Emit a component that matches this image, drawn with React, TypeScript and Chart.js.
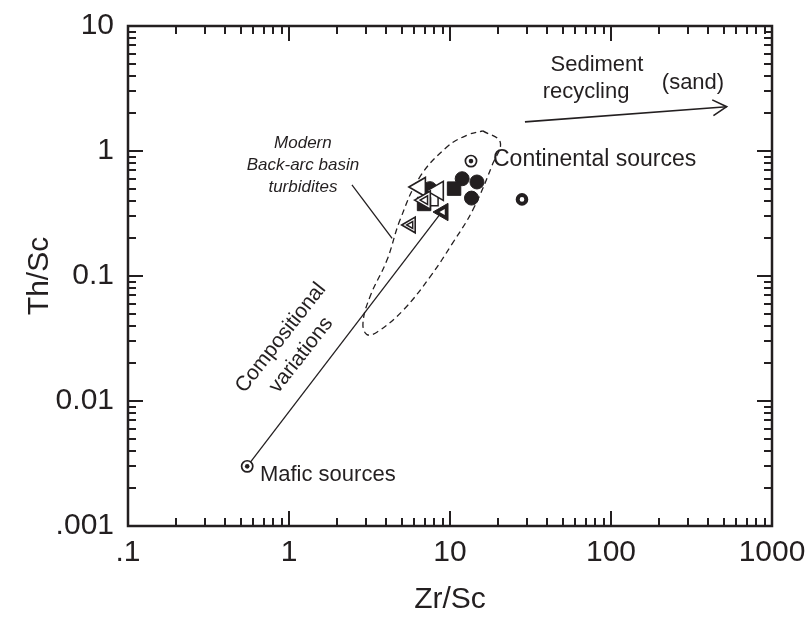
import React, { useEffect, useRef } from 'react';
import { Chart, registerables } from 'chart.js';

Chart.register(...registerables);

// ---- axis ticks ----
const xTickValues = [0.1, 1, 10, 100, 1000];
const xTickLabels = ['.1', '1', '10', '100', '1000'];
const yTickValues = [0.001, 0.01, 0.1, 1, 10];
const yTickLabels = ['.001', '0.01', '0.1', '1', '10'];

// ---- sample data (Zr/Sc, Th/Sc) ----
const filledCircles = [
  { x: 11.9, y: 0.6 },
  { x: 14.7, y: 0.565 },
  { x: 13.6, y: 0.42 },
  { x: 7.5, y: 0.5 },
];
const filledSquares = [
  { x: 10.6, y: 0.5 },
  { x: 6.9, y: 0.377 },
];
const openSquares = [{ x: 7.7, y: 0.41 }];
const openTriangles = [
  { x: 6.5, y: 0.515 },
  { x: 8.4, y: 0.48 },
];
const doubleTriangles = [{ x: 7.0, y: 0.405 }];
const smallDoubleTriangles = [{ x: 5.7, y: 0.256 }];
const thickTriangles = [{ x: 9.05, y: 0.325 }];
const continentalSource = [{ x: 13.5, y: 0.83 }];
const maficSource = [{ x: 0.55, y: 0.003 }];
const ringPoints = [{ x: 28, y: 0.41 }];

// ---- lines ----
const compositionLine = [
  { x: 0.55, y: 0.003 },
  { x: 9.6, y: 0.37 },
];
const turbiditeEnvelope = [
  { x: 16.0, y: 1.45 },
  { x: 20.5, y: 1.18 },
  { x: 18.5, y: 0.8 },
  { x: 13.9, y: 0.34 },
  { x: 10.4, y: 0.184 },
  { x: 7.5, y: 0.098 },
  { x: 5.1, y: 0.053 },
  { x: 3.57, y: 0.036 },
  { x: 3.05, y: 0.034 },
  { x: 2.88, y: 0.042 },
  { x: 3.18, y: 0.068 },
  { x: 4.06, y: 0.134 },
  { x: 4.89, y: 0.28 },
  { x: 6.5, y: 0.62 },
  { x: 9.6, y: 1.08 },
  { x: 12.8, y: 1.34 },
  { x: 16.0, y: 1.45 },
];
const leaderLine = [
  { x: 2.46, y: 0.535 },
  { x: 4.37, y: 0.2 },
];
const recyclingArrow = [
  { x: 29.2, y: 1.71 },
  { x: 523, y: 2.26 },
];

// ---- text annotations (anchored in data units) ----
const annotationTexts = ['Continental sources', 'Mafic sources', 'Sediment', 'recycling', '(sand)', 'Modern', 'Back-arc basin', 'turbidites', 'Compositional', 'variations'];
const annotationX = [18.5, 0.66, 81.8, 70, 323, 1.22, 1.22, 1.22, 0.89, 1.19];
const annotationY = [0.85, 0.00256, 4.9, 2.95, 3.5, 1.16, 0.77, 0.515, 0.032, 0.0233];

const INK = '#231f20';
const FONT = '"Liberation Sans", Arial, Helvetica, sans-serif';

const annotationStyle = [
  { size: 23, align: 'left', italic: false, rot: 0 },
  { size: 22, align: 'left', italic: false, rot: 0 },
  { size: 22, align: 'center', italic: false, rot: 0 },
  { size: 22, align: 'center', italic: false, rot: 0 },
  { size: 22, align: 'center', italic: false, rot: 0 },
  { size: 17, align: 'center', italic: true, rot: 0 },
  { size: 17, align: 'center', italic: true, rot: 0 },
  { size: 17, align: 'center', italic: true, rot: 0 },
  { size: 21, align: 'center', italic: false, rot: -52 },
  { size: 21, align: 'center', italic: false, rot: -52 },
];

const overlayPlugin = {
  id: 'overlay',
  afterDatasetsDraw(chart: any) {
    const { ctx, chartArea: a } = chart;
    const xs = chart.scales.x;
    const ys = chart.scales.y;
    ctx.save();
    ctx.strokeStyle = INK;
    ctx.fillStyle = INK;
    ctx.lineWidth = 2;
    ctx.lineCap = 'butt';
    // x ticks (bottom & top, inward)
    for (let e = -1; e < 3; e++) {
      for (let m = 1; m < 10; m++) {
        const v = m * Math.pow(10, e);
        const px = Math.round(xs.getPixelForValue(v));
        const len = m === 1 ? 15 : 8;
        ctx.beginPath();
        ctx.moveTo(px, a.bottom);
        ctx.lineTo(px, a.bottom - len);
        ctx.moveTo(px, a.top);
        ctx.lineTo(px, a.top + len);
        ctx.stroke();
      }
    }
    // y ticks (left & right, inward)
    for (let e = -3; e < 1; e++) {
      for (let m = 1; m < 10; m++) {
        const v = m * Math.pow(10, e);
        const py = Math.round(ys.getPixelForValue(v));
        const len = m === 1 ? 15 : 8;
        ctx.beginPath();
        ctx.moveTo(a.left, py);
        ctx.lineTo(a.left + len, py);
        ctx.moveTo(a.right, py);
        ctx.lineTo(a.right - len, py);
        ctx.stroke();
      }
    }
    // frame
    ctx.lineWidth = 2.5;
    ctx.strokeRect(a.left, a.top, a.right - a.left, a.bottom - a.top);

    // arrow head for sediment recycling
    const p0 = { x: xs.getPixelForValue(recyclingArrow[0].x), y: ys.getPixelForValue(recyclingArrow[0].y) };
    const p1 = { x: xs.getPixelForValue(recyclingArrow[1].x), y: ys.getPixelForValue(recyclingArrow[1].y) };
    const ang = Math.atan2(p1.y - p0.y, p1.x - p0.x);
    const hl = 16;
    const spread = 0.52;
    ctx.lineWidth = 1.6;
    ctx.beginPath();
    ctx.moveTo(p1.x - hl * Math.cos(ang - spread), p1.y - hl * Math.sin(ang - spread));
    ctx.lineTo(p1.x, p1.y);
    ctx.lineTo(p1.x - hl * Math.cos(ang + spread), p1.y - hl * Math.sin(ang + spread));
    ctx.stroke();

    // texts
    ctx.textBaseline = 'middle';
    annotationTexts.forEach((t, i) => {
      const st = annotationStyle[i];
      const px = xs.getPixelForValue(annotationX[i]);
      const py = ys.getPixelForValue(annotationY[i]);
      ctx.save();
      ctx.translate(px, py);
      ctx.rotate((st.rot * Math.PI) / 180);
      ctx.font = `${st.italic ? 'italic ' : ''}${st.size}px ${FONT}`;
      ctx.textAlign = st.align;
      ctx.fillText(t, 0, 0);
      ctx.restore();
    });
    ctx.restore();
  },
};

export default function App() {
  const ref = useRef<HTMLCanvasElement | null>(null);
  useEffect(() => {
    if (!ref.current) return;
    const lineDs = (data: any[], extra: any = {}) => ({
      data,
      showLine: true,
      borderColor: INK,
      borderWidth: 1.3,
      pointRadius: 0,
      fill: false,
      ...extra,
    });
    const noPad = (s: any) => {
      s.paddingLeft = 0;
      s.paddingRight = 0;
      s.paddingTop = 0;
      s.paddingBottom = 0;
    };
    const chart = new Chart(ref.current, {
      type: 'scatter',
      data: {
        datasets: [
          { data: maficSource, pointStyle: 'circle', pointRadius: 2.3, backgroundColor: INK, borderWidth: 0, order: 0 },
          { data: continentalSource, pointStyle: 'circle', pointRadius: 2.3, backgroundColor: INK, borderWidth: 0, order: 0 },
          { data: maficSource, pointStyle: 'circle', pointRadius: 5.6, backgroundColor: '#fff', borderColor: INK, borderWidth: 1.7, order: 1 },
          { data: continentalSource, pointStyle: 'circle', pointRadius: 5.6, backgroundColor: '#fff', borderColor: INK, borderWidth: 1.7, order: 1 },
          { data: ringPoints, pointStyle: 'circle', pointRadius: 4.3, backgroundColor: '#fff', borderColor: INK, borderWidth: 4, order: 1 },
          { data: thickTriangles, pointStyle: 'triangle', rotation: -90, pointRadius: 3.5, backgroundColor: '#fff', borderWidth: 0, order: 2 },
          { data: thickTriangles, pointStyle: 'triangle', rotation: -90, pointRadius: 10, backgroundColor: INK, borderColor: INK, borderWidth: 1, order: 3 },
          { data: doubleTriangles, pointStyle: 'triangle', rotation: -90, pointRadius: 5, backgroundColor: '#fff', borderColor: INK, borderWidth: 1.5, order: 2 },
          { data: smallDoubleTriangles, pointStyle: 'triangle', rotation: -90, pointRadius: 4, backgroundColor: '#fff', borderColor: INK, borderWidth: 1.5, order: 2 },
          { data: doubleTriangles, pointStyle: 'triangle', rotation: -90, pointRadius: 10.5, backgroundColor: '#fff', borderColor: INK, borderWidth: 1.6, order: 3 },
          { data: smallDoubleTriangles, pointStyle: 'triangle', rotation: -90, pointRadius: 9, backgroundColor: '#fff', borderColor: INK, borderWidth: 1.6, order: 3 },
          { data: openTriangles, pointStyle: 'triangle', rotation: -90, pointRadius: 11, backgroundColor: '#fff', borderColor: INK, borderWidth: 1.6, order: 4 },
          { data: filledSquares, pointStyle: 'rect', pointRadius: 9.5, backgroundColor: INK, borderColor: INK, borderWidth: 1, order: 5 },
          { data: openSquares, pointStyle: 'rect', pointRadius: 9, backgroundColor: '#fff', borderColor: INK, borderWidth: 1.5, order: 5 },
          { data: filledCircles, pointStyle: 'circle', pointRadius: 7, backgroundColor: INK, borderColor: INK, borderWidth: 1, order: 6 },
          lineDs(compositionLine, { order: 7 }),
          lineDs(leaderLine, { order: 7 }),
          lineDs(recyclingArrow, { order: 7, borderWidth: 1.6 }),
          lineDs(turbiditeEnvelope, { order: 8, borderDash: [6, 4], tension: 0.4 }),
        ],
      },
      options: {
        responsive: false,
        animation: false,
        events: [],
        layout: { padding: { top: 26, right: 39, left: 0, bottom: 0 } },
        plugins: { legend: { display: false }, tooltip: { enabled: false } },
        scales: {
          x: {
            type: 'logarithmic',
            position: 'bottom',
            min: 0.1,
            max: 1000,
            grid: { display: false, drawTicks: false },
            border: { display: false },
            afterBuildTicks: (s: any) => {
              s.ticks = xTickValues.map((v) => ({ value: v }));
            },
            afterFit: (s: any) => {
              s.height = 102;
              noPad(s);
            },
            ticks: {
              autoSkip: false,
              maxRotation: 0,
              padding: 9,
              color: INK,
              font: { family: FONT, size: 30 },
              callback: (v: any) => {
                const i = xTickValues.indexOf(Number(v));
                return i >= 0 ? xTickLabels[i] : '';
              },
            },
            title: { display: true, text: 'Zr/Sc', color: INK, font: { family: FONT, size: 30 }, padding: { top: 0, bottom: 10 } },
          },
          y: {
            type: 'logarithmic',
            position: 'left',
            min: 0.001,
            max: 10,
            grid: { display: false, drawTicks: false },
            border: { display: false },
            afterBuildTicks: (s: any) => {
              s.ticks = yTickValues.map((v) => ({ value: v }));
            },
            afterFit: (s: any) => {
              s.width = 128;
              noPad(s);
            },
            ticks: {
              autoSkip: false,
              padding: 14,
              color: INK,
              font: { family: FONT, size: 30 },
              callback: (v: any) => {
                const i = yTickValues.indexOf(Number(v));
                return i >= 0 ? yTickLabels[i] : '';
              },
            },
            title: { display: true, text: 'Th/Sc', color: INK, font: { family: FONT, size: 30 }, padding: { top: 22, bottom: 0 } },
          },
        },
      },
      plugins: [overlayPlugin],
    } as any);
    return () => chart.destroy();
  }, []);
  return (
    <div style={{ position: 'absolute', left: 0, top: 0, width: 811, height: 628, background: '#fff' }}>
      <canvas ref={ref} width={811} height={628} style={{ width: 811, height: 628, display: 'block' }} />
    </div>
  );
}
